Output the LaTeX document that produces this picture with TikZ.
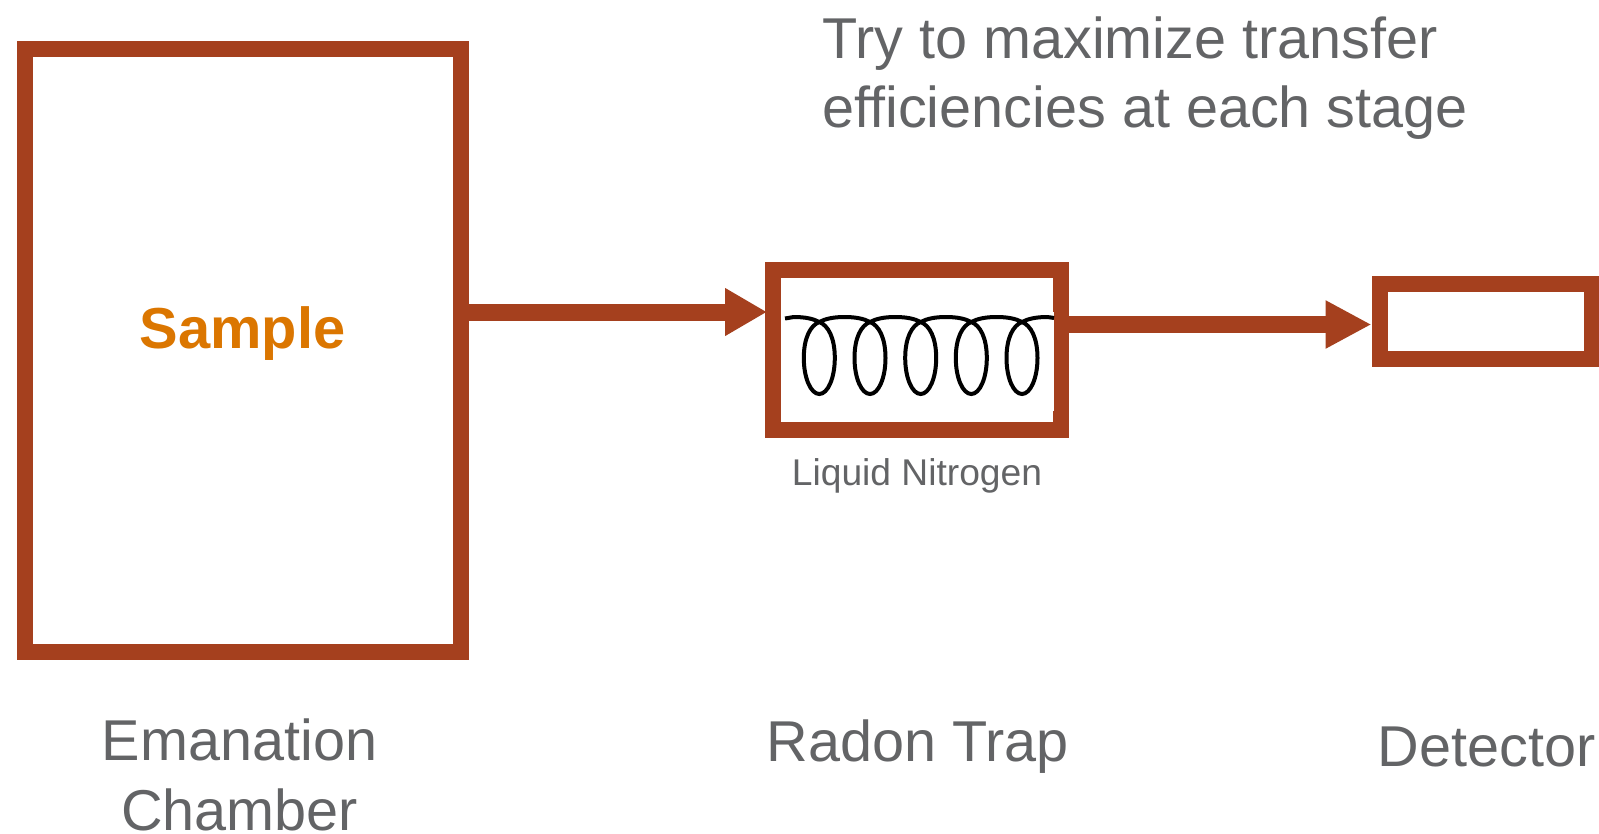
\documentclass[tikz,border=0pt]{standalone}
\usepackage{fontspec}
\setmainfont{Liberation Sans}
\usetikzlibrary{arrows.meta}
\definecolor{rust}{HTML}{A5401E}
\definecolor{greytext}{HTML}{636466}
\definecolor{samplecol}{HTML}{DB7600}
\tikzset{
  frame/.style={draw=rust,line width=16pt,inner sep=0pt,fill=white},
  flowa/.style={draw=rust,line width=17pt,-{Triangle[length=42pt,width=45pt,fill=rust]}},
  flowb/.style={draw=rust,line width=17pt,-{Triangle[length=46pt,width=45pt,fill=rust]}},
  biglabel/.style={text=greytext,font=\fontsize{57.6}{69.5}\selectfont,align=center,inner sep=0pt},
  coilline/.style={draw=black,line width=4pt}
}
\newcommand{\coilloop}[1]{
  .. controls (#1-14,317) and (#1-6,318.8) .. (#1,322)
  .. controls (#1+9,325.5) and (#1+15.5,338) .. (#1+15.5,358)
  .. controls (#1+15.5,378) and (#1+8.5,394) .. (#1,394)
  .. controls (#1-8.5,394) and (#1-15.5,378) .. (#1-15.5,358)
  .. controls (#1-15.5,338) and (#1-9,325.5) .. (#1,322)
  .. controls (#1+6,318.8) and (#1+14,317) .. (#1+25.3,317)
}
\begin{document}
\begin{tikzpicture}[x=1pt,y=-1pt]
\useasboundingbox (0,0) rectangle (1599,833);
\node[frame,minimum width=436pt,minimum height=603pt] (chamber) at (242.6,350.5) {};
\node[frame,minimum width=288pt,minimum height=160pt] (trap) at (917,350) {};
\node[frame,minimum width=212pt,minimum height=75pt] (detector) at (1485.5,321.7) {};
\fill[white] (1053,312) rectangle (1054.4,411);
\coordinate (arrowa) at (0,312);
\coordinate (arrowb) at (0,324.5);
\coordinate (trapexit) at (1054.4,324.5);
\draw[flowa,shorten >=-2pt] (chamber.east |- arrowa) -- (trap.west |- arrowa);
\draw[flowb] (trapexit) -- (detector.west |- arrowb);
\draw[coilline] (785,318.5) .. controls (788,318.2) and (790,317.5) .. (794,317)
  \coilloop{819.3} \coilloop{870} \coilloop{920.7} \coilloop{971.3} \coilloop{1022}
  .. controls (1050,317) and (1052,318) .. (1054,318);
\node[text=samplecol,font=\fontsize{57.8}{60}\selectfont\bfseries,inner sep=0pt] (sample) at (242.5,334) {Sample};
\node[text=greytext,font=\fontsize{37.2}{40}\selectfont,inner sep=0pt] (ln) at (917,476) {Liquid Nitrogen};
\node[biglabel,anchor=west] (note) at (822,79) {\begin{tabular}{@{}l@{}}Try to maximize transfer\\efficiencies at each stage\end{tabular}};
\node[biglabel] (emlabel) at (239.5,775) {Emanation\\Chamber};
\node[biglabel] (trlabel) at (917.5,747) {Radon Trap};
\node[biglabel] (delabel) at (1486.5,747) {Detector};
\end{tikzpicture}
\end{document}
